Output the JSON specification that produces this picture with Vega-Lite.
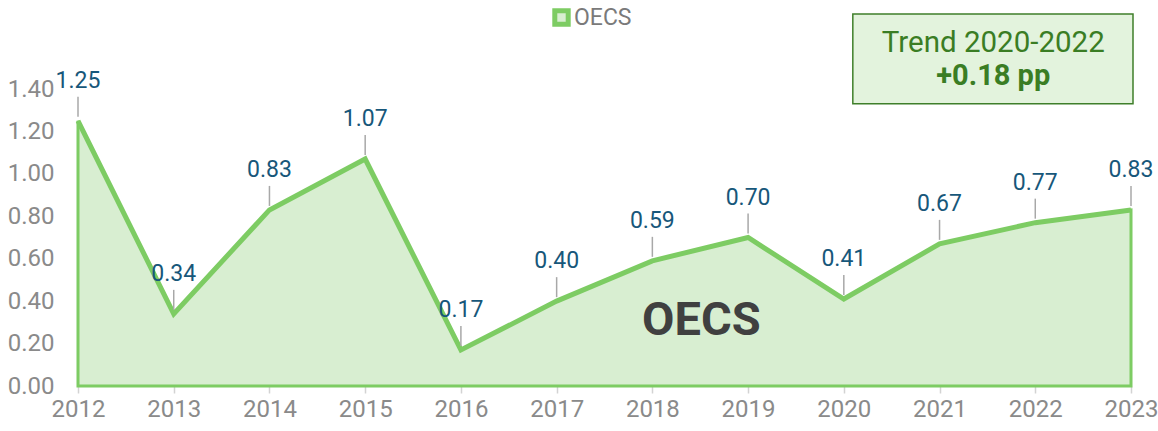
{
  "$schema": "https://vega.github.io/schema/vega-lite/v6.json",
  "width": 1053,
  "height": 297,
  "autosize": "none",
  "padding": {"left": 78, "top": 89, "right": 27, "bottom": 45},
  "config": {
    "font": "Roboto",
    "view": {"stroke": null},
    "axis": {"labelFont": "Roboto", "labelColor": "#8a8a8a", "labelFontSize": 24, "title": null, "grid": false, "domain": false}
  },
  "data": {
    "values": [
      {"year": "2012", "value": 1.25},
      {"year": "2013", "value": 0.34},
      {"year": "2014", "value": 0.83},
      {"year": "2015", "value": 1.07},
      {"year": "2016", "value": 0.17},
      {"year": "2017", "value": 0.40},
      {"year": "2018", "value": 0.59},
      {"year": "2019", "value": 0.70},
      {"year": "2020", "value": 0.41},
      {"year": "2021", "value": 0.67},
      {"year": "2022", "value": 0.77},
      {"year": "2023", "value": 0.83}
    ]
  },
  "encoding": {
    "x": {
      "field": "year",
      "type": "ordinal",
      "scale": {"type": "point", "padding": 0},
      "axis": {"labelAngle": 0, "ticks": true, "tickColor": "#d3d3d3", "tickSize": 7, "tickWidth": 1.5, "labelPadding": 4}
    },
    "y": {
      "field": "value",
      "type": "quantitative",
      "scale": {"domain": [0, 1.4], "nice": false},
      "axis": {"values": [0, 0.2, 0.4, 0.6, 0.8, 1.0, 1.2, 1.4], "format": ".2f", "ticks": false, "labelPadding": 24}
    }
  },
  "layer": [
    {
      "mark": {"type": "area", "stroke": "#7dcc63", "strokeWidth": 3, "opacity": 1},
      "encoding": {
        "fill": {
          "datum": "OECS",
          "scale": {"range": ["#d8eed1"]},
          "legend": {
            "title": null,
            "orient": "none",
            "legendX": 472,
            "legendY": -83,
            "symbolType": "square",
            "symbolSize": 180,
            "symbolStrokeColor": "#7dcc63",
            "symbolStrokeWidth": 5,
            "symbolFillColor": "#d8eed1",
            "symbolOpacity": 1,
            "labelFontSize": 23,
            "labelColor": "#7a7a7a",
            "labelFont": "Roboto",
            "labelOffset": 1
          }
        }
      }
    },
    {
      "mark": {"type": "line", "color": "#7dcc63", "strokeWidth": 5, "strokeJoin": "miter"}
    },
    {
      "mark": {"type": "rule", "color": "#a8a8a8", "strokeWidth": 1.5, "yOffset": -4, "y2Offset": -24},
      "encoding": {"y2": {"field": "value"}}
    },
    {
      "mark": {"type": "text", "dy": -33, "baseline": "alphabetic", "fontSize": 23, "color": "#17577a", "font": "Roboto"},
      "encoding": {"text": {"field": "value", "type": "quantitative", "format": ".2f"}}
    },
    {
      "transform": [{"filter": "datum.year == '2012'"}],
      "mark": {"type": "text", "text": "OECS", "fontSize": 47, "fontWeight": "bold", "color": "#404040", "font": "Roboto", "baseline": "alphabetic", "dx": 49},
      "encoding": {"x": {"datum": "2018"}, "y": {"datum": 0.24}}
    },
    {
      "transform": [{"filter": "datum.year == '2012'"}],
      "mark": {"type": "rect", "fill": "#e3f3dd", "stroke": "#3f7f2a", "strokeWidth": 1.5, "xOffset": 9, "x2Offset": 2},
      "encoding": {"x": {"datum": "2020"}, "x2": {"datum": "2023"}, "y": {"datum": 1.33}, "y2": {"datum": 1.754}}
    },
    {
      "transform": [{"filter": "datum.year == '2012'"}],
      "mark": {"type": "text", "text": "Trend 2020-2022", "fontSize": 29.5, "color": "#3a7d24", "font": "Roboto", "baseline": "alphabetic", "dx": -42},
      "encoding": {"x": {"datum": "2022"}, "y": {"datum": 1.575}}
    },
    {
      "transform": [{"filter": "datum.year == '2012'"}],
      "mark": {"type": "text", "text": "+0.18 pp", "fontSize": 29, "fontWeight": "bold", "color": "#3a7d24", "font": "Roboto", "baseline": "alphabetic", "dx": -42},
      "encoding": {"x": {"datum": "2022"}, "y": {"datum": 1.419}}
    }
  ]
}
